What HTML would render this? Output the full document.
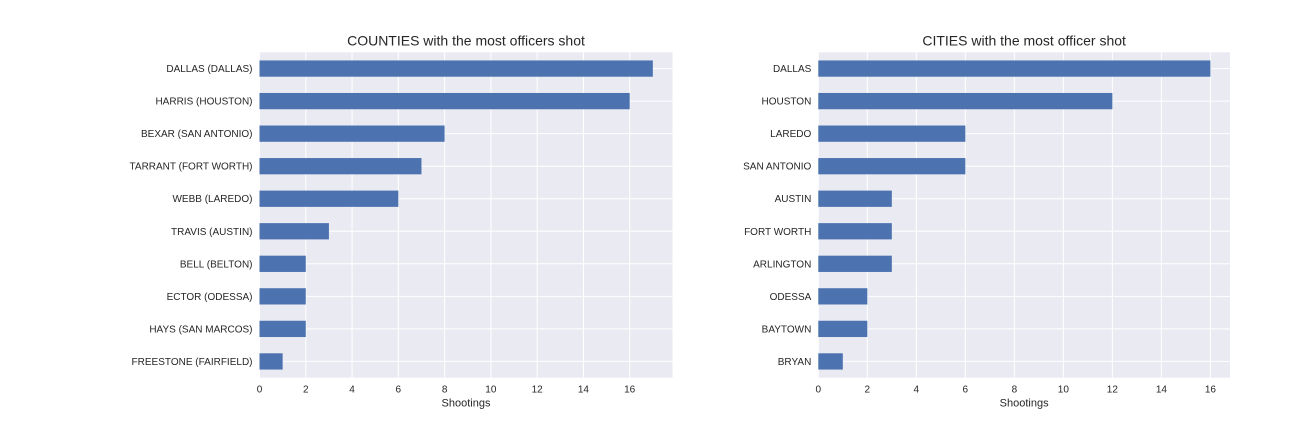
<!DOCTYPE html>
<html><head><meta charset="utf-8"><style>
body{margin:0;background:#fff;}
svg{display:block;font-family:"Liberation Sans",Arial,sans-serif;}
</style></head><body>
<svg id="c" width="1296" height="432" xmlns="http://www.w3.org/2000/svg"></svg>
<script>
const countyCats=["DALLAS (DALLAS)","HARRIS (HOUSTON)","BEXAR (SAN ANTONIO)","TARRANT (FORT WORTH)","WEBB (LAREDO)","TRAVIS (AUSTIN)","BELL (BELTON)","ECTOR (ODESSA)","HAYS (SAN MARCOS)","FREESTONE (FAIRFIELD)"];
const countyVals=[17,16,8,7,6,3,2,2,2,1];
const cityCats=["DALLAS","HOUSTON","LAREDO","SAN ANTONIO","AUSTIN","FORT WORTH","ARLINGTON","ODESSA","BAYTOWN","BRYAN"];
const cityVals=[16,12,6,6,3,3,3,2,2,1];
const ticks=[0,2,4,6,8,10,12,14,16];
const NS="http://www.w3.org/2000/svg";
const svg=document.getElementById('c');
function mk(t,a,p){const e=document.createElementNS(NS,t);for(const k in a)e.setAttribute(k,a[k]);(p||svg).appendChild(e);return e;}
function panel(name,x0,x1,y0,y1,cats,vals,title){
  const g=mk('g',{});
  
  
  const max=Math.max(...vals)*1.05;
  const xs=v=>x0+(v/max)*(x1-x0);
  const step=(y1-y0)/cats.length;
  const ys=i=>y0+step*(i+0.5);
  const bg=mk('rect',{x:x0,y:y0,width:x1-x0,height:y1-y0,fill:'#eaeaf2'},g);
  
  
  ticks.forEach(t=>{
    const X=xs(t);
    mk('line',{x1:X,x2:X,y1:y0,y2:y1,stroke:'#fff','stroke-width':1},g);
    const tl=mk('text',{x:X,y:y1+15,'font-size':10,'text-anchor':'middle',fill:'#262626'},g);
    tl.textContent=t;
    
    
  });
  cats.forEach((c,i)=>{
    const Y=ys(i);
    mk('line',{x1:x0,x2:x1,y1:Y,y2:Y,stroke:'#fff','stroke-width':1},g);
    const yl=mk('text',{x:x0-7,y:Y+3.5,'font-size':10,'text-anchor':'end',fill:'#262626'},g);
    yl.textContent=c;
    
    
  });
  vals.forEach((v,i)=>{
    const h=step*0.5;
    const b=mk('rect',{x:x0,y:ys(i)-h/2,width:xs(v)-x0,height:h,fill:'#4c72b0'},g);
    
    
  });
  const tt=mk('text',{x:(x0+x1)/2,y:y0-7,'font-size':14,'text-anchor':'middle',fill:'#262626'},g);
  tt.textContent=title;
  
  
  const xl=mk('text',{x:(x0+x1)/2,y:y1+29,'font-size':11,'text-anchor':'middle',fill:'#262626'},g);
  xl.textContent='Shootings';
  
  
}
panel('counties-panel',259.5,672.5,52.3,377.7,countyCats,countyVals,'COUNTIES with the most officers shot');
panel('cities-panel',818.3,1230,52.3,377.7,cityCats,cityVals,'CITIES with the most officer shot');
</script>
</body></html>
